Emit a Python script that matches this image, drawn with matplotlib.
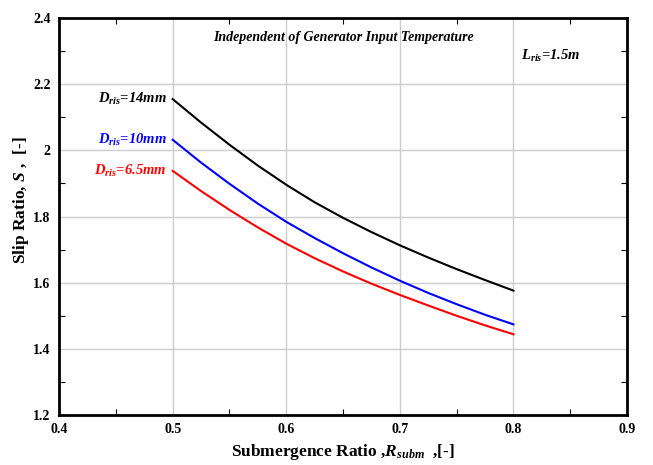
import matplotlib
matplotlib.use('Agg')
import matplotlib.pyplot as plt
from matplotlib.ticker import MultipleLocator

plt.rcParams['font.family'] = 'Liberation Serif'
plt.rcParams['font.weight'] = 'bold'
plt.rcParams['axes.labelweight'] = 'bold'
plt.rcParams['mathtext.fontset'] = 'custom'
plt.rcParams['mathtext.rm'] = 'Liberation Serif:bold'
plt.rcParams['mathtext.it'] = 'Liberation Serif:bold:italic'
plt.rcParams['mathtext.bf'] = 'Liberation Serif:bold'

# Submergence ratio
r_subm = [0.5, 0.525, 0.55, 0.575, 0.6, 0.625, 0.65, 0.675, 0.7, 0.725, 0.75, 0.775, 0.8]

# Slip ratio for each riser diameter
s_14mm = [2.155, 2.084, 2.017, 1.954, 1.896, 1.843, 1.796, 1.753, 1.713, 1.676, 1.641, 1.608, 1.576]
s_10mm = [2.032, 1.963, 1.899, 1.839, 1.784, 1.735, 1.689, 1.646, 1.606, 1.569, 1.535, 1.503, 1.474]
s_65mm = [1.938, 1.877, 1.820, 1.767, 1.718, 1.674, 1.634, 1.597, 1.563, 1.531, 1.500, 1.471, 1.444]

x_ticks = [0.4, 0.5, 0.6, 0.7, 0.8, 0.9]
y_ticks = [1.2, 1.4, 1.6, 1.8, 2.0, 2.2, 2.4]
y_tick_labels = ['1.2', '1.4', '1.6', '1.8', '2', '2.2', '2.4']

fig = plt.figure(figsize=(6.53, 4.65), dpi=100)
ax = fig.add_axes([0.0904, 0.1075, 0.8698, 0.8538])

ax.plot(r_subm, s_14mm, color='black', lw=1.5)
ax.plot(r_subm, s_10mm, color='#0000ff', lw=1.5)
ax.plot(r_subm, s_65mm, color='#ff0000', lw=1.5)

ax.set_xlim(0.4, 0.9)
ax.set_ylim(1.2, 2.4)
ax.set_xticks(x_ticks)
ax.set_xticklabels([f'{v:g}' for v in x_ticks])
ax.set_yticks(y_ticks)
ax.set_yticklabels(y_tick_labels)
ax.xaxis.set_minor_locator(MultipleLocator(0.05))
ax.yaxis.set_minor_locator(MultipleLocator(0.1))
ax.tick_params(which='both', direction='in', top=True, right=True, labelsize=10)
ax.tick_params(which='major', length=0, pad=6)
ax.tick_params(which='minor', length=4, width=0.8)
ax.grid(True, which='major', color='#cccccc', lw=1)
ax.set_axisbelow(True)
for sp in ax.spines.values():
    sp.set_linewidth(2)

ax.set_xlabel(r'Submergence Ratio ,$R_{subm}$  ,[-]', fontsize=12.5, labelpad=4)
ax.set_ylabel(r'Slip Ratio, $S$ ,  [-]', fontsize=12.5)
ax.yaxis.set_label_coords(-0.05, 0.54)

ax.text(0.5, 0.952, 'Independent of Generator Input Temperature', transform=ax.transAxes,
        ha='center', va='center', fontsize=10, style='italic')
ax.text(0.813, 0.905, r'$L_{ris}$=1.5m', transform=ax.transAxes,
        ha='left', va='center', fontsize=10.5, style='italic')

ax.text(0.495, s_14mm[0], r'$D_{ris}$=14mm', color='black', ha='right', va='center',
        fontsize=10.5, style='italic')
ax.text(0.495, s_10mm[0], r'$D_{ris}$=10mm', color='#0000ff', ha='right', va='center',
        fontsize=10.5, style='italic')
ax.text(0.495, s_65mm[0], r'$D_{ris}$=6.5mm', color='#ff0000', ha='right', va='center',
        fontsize=10.5, style='italic')

fig.savefig('out.png', dpi=100)
